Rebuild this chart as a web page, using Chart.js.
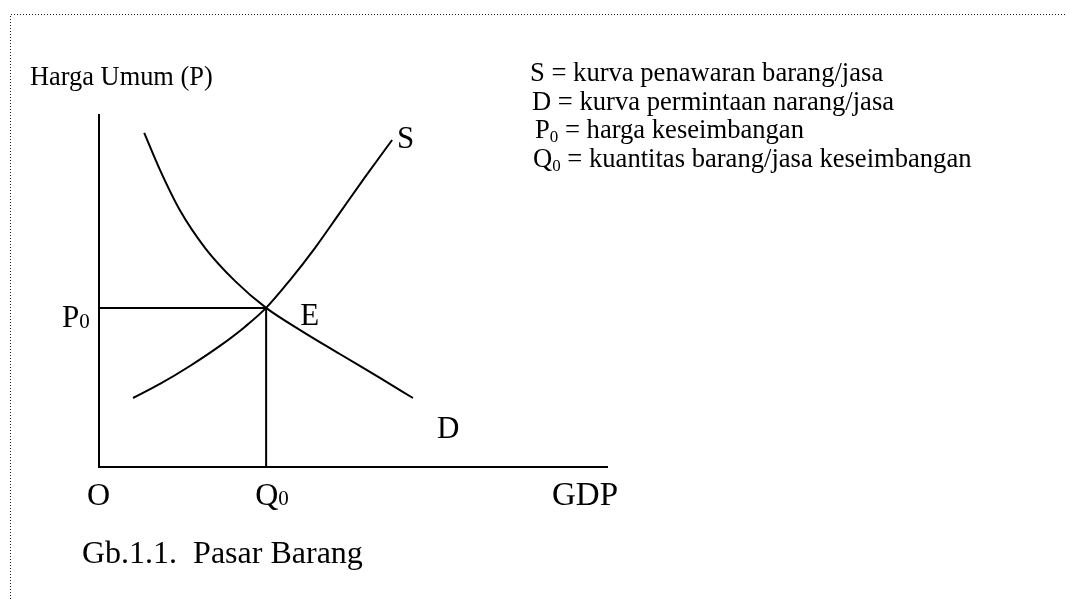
<!DOCTYPE html>
<html>
<head>
<meta charset="utf-8">
<title>Pasar Barang</title>
<script src="https://cdn.jsdelivr.net/npm/chart.js@4.4.0/dist/chart.umd.min.js"></script>
<style>
  html, body { margin: 0; padding: 0; background: #fff; }
  canvas { display: block; }
</style>
</head>
<body>
<canvas id="market-chart" width="1066" height="599"></canvas>
<script>
// Quantity (GDP) and general price level for each curve, both axes run 0..100
const supplyQ = [6.7, 12.0, 17.9, 23.8, 28.7, 32.9, 37.6, 42.5, 47.4, 52.4, 57.7];
const supplyP = [19.6, 23.6, 28.7, 34.4, 39.8, 45.2, 53.1, 62.2, 72.2, 82.4, 92.9];
const demandQ = [8.9, 12.0, 15.9, 20.9, 26.8, 32.9, 39.6, 47.4, 55.3, 61.8];
const demandP = [94.9, 84.4, 73.0, 62.2, 52.8, 45.2, 38.9, 32.1, 25.3, 19.6];
const equilibriumQ = 32.9;
const equilibriumP = 45.2;

const axisTitleY = 'Harga Umum (P)';
const axisTitleX = 'GDP';
const caption = 'Gb.1.1.  Pasar Barang';
// [symbol, subscript, description]
const legendRows = [
    ['S', '', ' = kurva penawaran barang/jasa'],
    ['D', '', ' = kurva permintaan narang/jasa'],
    ['P', '0', ' = harga keseimbangan'],
    ['Q', '0', ' = kuantitas barang/jasa keseimbangan']
];

const SERIF = '"Liberation Serif", "Times New Roman", serif';

function toPoints(qs, ps) {
    return qs.map((q, i) => ({ x: q, y: ps[i] }));
}

// text with an optional lowered subscript right after it
function drawSub(ctx, main, sub, x, y, size, subSize, drop) {
    ctx.font = size + 'px ' + SERIF;
    ctx.fillText(main, x, y);
    let w = ctx.measureText(main).width;
    if (sub) {
        ctx.font = subSize + 'px ' + SERIF;
        ctx.fillText(sub, x + w, y + drop);
        w += ctx.measureText(sub).width;
    }
    return w;
}

const annotations = {
    id: 'annotations',
    beforeDraw(chart) {
        // dotted frame round the figure
        const ctx = chart.ctx;
        ctx.save();
        ctx.strokeStyle = '#222';
        ctx.lineWidth = 1;
        ctx.setLineDash([1, 2]);
        ctx.beginPath();
        ctx.moveTo(10.5, chart.height);
        ctx.lineTo(10.5, 14.5);
        ctx.lineTo(chart.width, 14.5);
        ctx.stroke();
        ctx.restore();
    },
    afterDraw(chart) {
        const { ctx, scales: { x, y } } = chart;
        ctx.save();
        ctx.fillStyle = '#000';
        ctx.textBaseline = 'alphabetic';
        ctx.textAlign = 'left';

        // axis title and legend
        ctx.font = '26.4px ' + SERIF;
        ctx.fillText(axisTitleY, 30, 85);
        const legendX = [530, 532, 535, 533];
        legendRows.forEach((row, i) => {
            const lx = legendX[i];
            const ly = 81 + i * 28.5;
            const w = drawSub(ctx, row[0], row[1], lx, ly, 26.6, 17, 4);
            ctx.font = '26.6px ' + SERIF;
            ctx.fillText(row[2], lx + w, ly);
        });

        const ox = x.getPixelForValue(0);
        const oy = y.getPixelForValue(0);
        const ex = x.getPixelForValue(equilibriumQ);
        const ey = y.getPixelForValue(equilibriumP);

        // curve and point labels
        const sEnd = supplyQ.length - 1;
        const dEnd = demandQ.length - 1;
        ctx.font = '31px ' + SERIF;
        ctx.fillText('S', x.getPixelForValue(supplyQ[sEnd]) + 5, y.getPixelForValue(supplyP[sEnd]) + 8);
        ctx.fillText('D', x.getPixelForValue(demandQ[dEnd]) + 24, y.getPixelForValue(demandP[dEnd]) + 40);
        ctx.fillText('E', ex + 34, ey + 17);

        drawSub(ctx, 'P', '0', 62, ey + 19, 31, 21, 1);
        ctx.font = '32px ' + SERIF;
        ctx.fillText('O', ox - 12, oy + 38);
        drawSub(ctx, 'Q', '0', ex - 11, oy + 38, 32, 21, 0);
        ctx.font = '33px ' + SERIF;
        ctx.fillText(axisTitleX, x.right - 55, oy + 38);

        ctx.font = '32px ' + SERIF;
        ctx.fillText(caption, 82, 563);
        ctx.restore();
    }
};

const lineStyle = {
    showLine: true,
    borderColor: '#000',
    borderWidth: 2,
    pointRadius: 0,
    fill: false,
    clip: false
};

new Chart(document.getElementById('market-chart'), {
    type: 'scatter',
    data: {
        datasets: [
            { ...lineStyle, label: 'S', data: toPoints(supplyQ, supplyP), cubicInterpolationMode: 'monotone' },
            { ...lineStyle, label: 'D', data: toPoints(demandQ, demandP), cubicInterpolationMode: 'monotone' },
            { ...lineStyle, label: 'P0', data: [{ x: 0, y: equilibriumP }, { x: equilibriumQ, y: equilibriumP }] },
            { ...lineStyle, label: 'Q0', data: [{ x: equilibriumQ, y: 0 }, { x: equilibriumQ, y: equilibriumP }] }
        ]
    },
    options: {
        responsive: false,
        animation: false,
        events: [],
        layout: { padding: { left: 99, top: 115, right: 459, bottom: 132 } },
        scales: {
            x: {
                type: 'linear', min: 0, max: 100,
                grid: { display: false, drawTicks: false },
                ticks: { display: false },
                border: { color: '#000', width: 2 },
                afterFit: (scale) => { scale.height = 0; }
            },
            y: {
                type: 'linear', min: 0, max: 100,
                grid: { display: false, drawTicks: false },
                ticks: { display: false },
                border: { color: '#000', width: 2 },
                afterFit: (scale) => { scale.width = 0; }
            }
        },
        plugins: {
            legend: { display: false },
            tooltip: { enabled: false }
        }
    },
    plugins: [annotations]
});
</script>
</body>
</html>
